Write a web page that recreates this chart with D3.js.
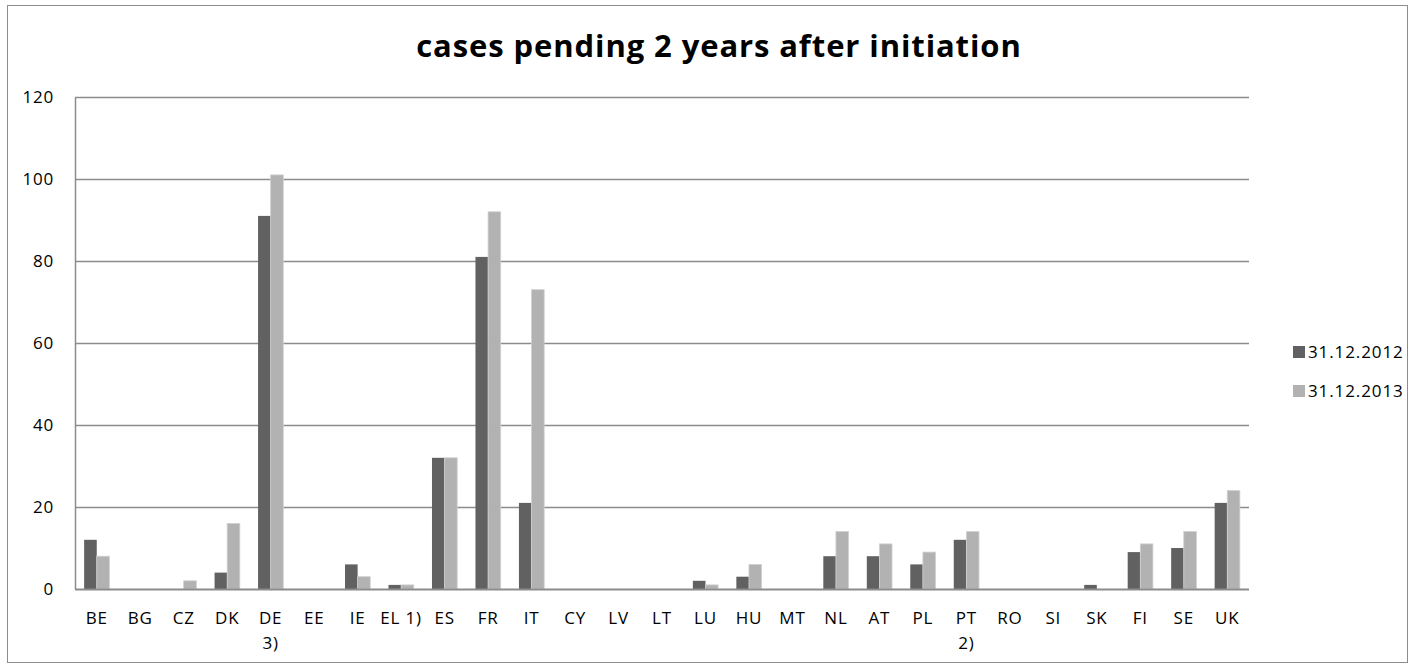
<!DOCTYPE html>
<html><head><meta charset="utf-8">
<script src="https://cdn.jsdelivr.net/npm/d3@7"></script>
<style>body{margin:0;background:#fff}svg{display:block}</style>
</head><body>
<svg id="c" width="1414" height="668"></svg>
<script>
const categories = ["BE","BG","CZ","DK","DE\n3)","EE","IE","EL 1)","ES","FR","IT","CY","LV","LT","LU","HU","MT","NL","AT","PL","PT\n2)","RO","SI","SK","FI","SE","UK"];
const series2012 = [12,0,0,4,91,0,6,1,32,81,21,0,0,0,2,3,0,8,8,6,12,0,0,1,9,10,21];
const series2013 = [8,0,2,16,101,0,3,1,32,92,73,0,0,0,1,6,0,14,11,9,14,0,0,0,11,14,24];
const seriesNames = ["31.12.2012","31.12.2013"];
const yTicks = [0,20,40,60,80,100,120];
const colors = ["#616161","#b2b2b2"];

const svg = d3.select("#c");
const font = "'Open Sans', 'Liberation Sans', sans-serif";
svg.append("rect").attr("x",7.5).attr("y",5.5).attr("width",1400).attr("height",657)
  .attr("fill","#fff").attr("stroke","#8c8c8c").attr("stroke-width",1);

const L=75, R=1249, T=97, B=589;
const x = d3.scaleBand().domain(categories).range([L,R]).paddingInner(0.42).paddingOuter(0.21);
const xs = d3.scaleBand().domain([0,1]).range([0,x.bandwidth()]);
const y = d3.scaleLinear().domain([0,120]).range([B,T]);

svg.append("text").attr("x",719).attr("y",57).attr("text-anchor","middle")
  .attr("font-family",font).attr("font-weight","bold").attr("font-size",31).attr("letter-spacing",0.9).attr("fill","#000")
  .text("cases pending 2 years after initiation");

// gridlines
svg.append("g").selectAll("line").data(yTicks.filter(d=>d>0)).join("line")
  .attr("x1",L).attr("x2",R).attr("y1",d=>Math.round(y(d))+0.5).attr("y2",d=>Math.round(y(d))+0.5)
  .attr("stroke","#8c8c8c").attr("stroke-width",1.5);

// y axis
const ya = svg.append("g").attr("transform",`translate(${L},0)`)
  .call(d3.axisLeft(y).tickValues(yTicks).tickSize(0).tickPadding(21));
ya.select(".domain").attr("stroke","#8c8c8c").attr("stroke-width",1.5);
ya.selectAll("text").attr("font-family",font).attr("font-size",17).attr("letter-spacing",0.8).attr("fill","#000");

// bars
const data = categories.map((c,i)=>({c, v:[series2012[i],series2013[i]]}));
const g = svg.append("g");
data.forEach(d=>{
  d.v.forEach((v,k)=>{
    if(v<=0) return;
    g.append("rect").attr("x",x(d.c)+xs(k)).attr("y",y(v)).attr("width",xs.bandwidth()).attr("height",B-y(v))
      .attr("fill",colors[k]).attr("stroke",k===1?"#d0d0d0":"none").attr("stroke-width",k===1?0.8:0);
  });
});

// x axis line
svg.append("line").attr("x1",L).attr("x2",R).attr("y1",B+0.5).attr("y2",B+0.5)
  .attr("stroke","#8c8c8c").attr("stroke-width",2);

// x labels
const xl = svg.append("g");
categories.forEach(c=>{
  const cx = x(c)+x.bandwidth()/2;
  const t = xl.append("text").attr("x",cx).attr("y",624).attr("text-anchor","middle")
    .attr("font-family",font).attr("font-size",17).attr("letter-spacing",0.8).attr("fill","#000");
  c.split("\n").forEach((s,i)=>t.append("tspan").attr("x",cx).attr("dy",i?25:0).text(s));
});

// legend
seriesNames.forEach((n,i)=>{
  const ly = 352 + i*39;
  svg.append("rect").attr("x",1293).attr("y",ly-6).attr("width",12).attr("height",12).attr("fill",colors[i]);
  svg.append("text").attr("x",1308).attr("y",ly+6).attr("font-family",font).attr("font-size",17).attr("letter-spacing",0.9).attr("fill","#000").text(n);
});
</script>
</body></html>
